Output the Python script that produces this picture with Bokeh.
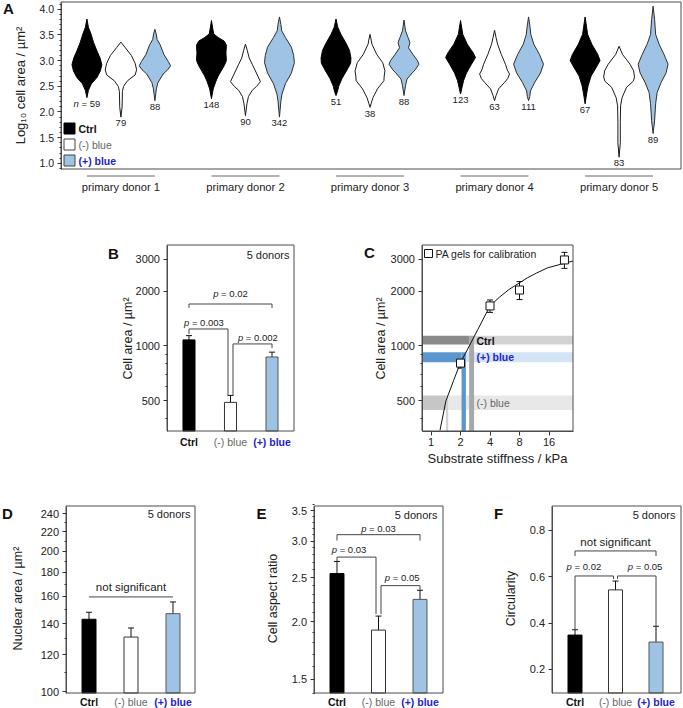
import math
from bokeh.plotting import figure
from bokeh.models import (Label, FixedTicker, SingleIntervalTicker, PrintfTickFormatter,
                          Whisker, TeeHead, ColumnDataSource, Spacer, Range1d)
from bokeh.layouts import column, row
from bokeh.embed import file_html
from bokeh.resources import INLINE

FONT = "Liberation Sans"
INK = "#222222"
FRAME = "#4d4d4d"
BLUE_FILL = "#9fc3e4"
BLUE_TEXT = "#2424c8"
GREY_TEXT = "#666666"

# ---------------- data: panel A (violins) ----------------
donors = ["primary donor 1", "primary donor 2", "primary donor 3",
          "primary donor 4", "primary donor 5"]
conditions = ["Ctrl", "(-) blue", "(+) blue"]
n_ctrl = [59, 148, 51, 123, 67]
n_minus = [79, 90, 38, 63, 83]
n_plus = [88, 342, 88, 111, 89]

# violin outlines: (log10 cell area, relative half-width)
d1_ctrl = [(3.81, 0), (3.65, 0.1), (3.52, 0.27), (3.35, 0.45), (3.19, 0.67), (3.05, 0.88),
           (2.92, 1.0), (2.8, 0.9), (2.67, 0.67), (2.55, 0.3), (2.42, 0.1), (2.28, 0)]
d1_minus = [(3.36, 0), (3.25, 0.3), (3.1, 0.7), (2.95, 0.95), (2.82, 1.05), (2.72, 0.95),
            (2.61, 0.45), (2.5, 0.18), (2.4, 0.1), (2.1, 0.08), (1.9, 0)]
d1_plus = [(3.61, 0), (3.5, 0.1), (3.41, 0.15), (3.31, 0.35), (3.12, 0.6), (2.98, 0.9),
           (2.9, 1.05), (2.82, 0.85), (2.74, 0.55), (2.57, 0.2), (2.45, 0.1), (2.22, 0)]
d2_ctrl = [(3.78, 0), (3.6, 0.1), (3.52, 0.15), (3.45, 0.45), (3.38, 0.85), (3.3, 1.0),
           (3.15, 0.97), (3.0, 1.0), (2.9, 0.85), (2.8, 0.65), (2.7, 0.45), (2.6, 0.3),
           (2.45, 0.12), (2.26, 0)]
d2_minus = [(3.32, 0), (3.2, 0.12), (3.05, 0.25), (2.93, 0.45), (2.76, 0.73), (2.59, 1.0),
            (2.5, 0.75), (2.42, 0.45), (2.3, 0.2), (2.16, 0.1), (1.93, 0)]
d2_plus = [(3.85, 0), (3.7, 0.1), (3.58, 0.15), (3.45, 0.4), (3.26, 0.8), (3.1, 0.95),
           (2.96, 1.0), (2.76, 0.8), (2.55, 0.4), (2.35, 0.17), (2.22, 0.1), (1.9, 0)]
d3_ctrl = [(3.81, 0), (3.65, 0.12), (3.5, 0.35), (3.35, 0.65), (3.2, 0.9), (3.05, 1.0),
           (2.95, 0.98), (2.8, 0.7), (2.65, 0.4), (2.5, 0.18), (2.4, 0.1), (2.32, 0)]
d3_minus = [(3.51, 0), (3.4, 0.08), (3.32, 0.13), (3.12, 0.45), (2.96, 0.85), (2.8, 1.0),
            (2.7, 0.95), (2.61, 0.93), (2.45, 0.5), (2.28, 0.2), (2.16, 0.07), (2.09, 0)]
d3_plus = [(3.79, 0), (3.58, 0.1), (3.45, 0.27), (3.35, 0.4), (3.25, 0.3), (3.12, 0.6),
           (3.0, 0.9), (2.93, 1.0), (2.82, 0.75), (2.76, 0.55), (2.64, 0.2), (2.51, 0.1), (2.32, 0)]
d4_ctrl = [(3.78, 0), (3.6, 0.1), (3.51, 0.15), (3.32, 0.45), (3.15, 0.85), (3.06, 1.0),
           (2.93, 0.73), (2.76, 0.4), (2.61, 0.2), (2.48, 0.1), (2.35, 0)]
d4_minus = [(3.59, 0), (3.45, 0.1), (3.32, 0.2), (3.12, 0.45), (2.93, 0.73), (2.82, 0.85),
            (2.74, 1.0), (2.65, 0.88), (2.57, 0.65), (2.45, 0.27), (2.32, 0.1), (2.22, 0)]
d4_plus = [(3.85, 0), (3.65, 0.1), (3.51, 0.15), (3.32, 0.35), (3.12, 0.73), (2.93, 1.0),
           (2.76, 0.8), (2.57, 0.4), (2.41, 0.13), (2.3, 0.08), (2.22, 0)]
d5_ctrl = [(3.85, 0), (3.65, 0.1), (3.51, 0.17), (3.32, 0.45), (3.12, 0.85), (3.0, 1.0),
           (2.86, 0.73), (2.7, 0.4), (2.51, 0.2), (2.35, 0.1), (2.16, 0)]
d5_minus = [(3.28, 0), (3.12, 0.23), (2.93, 0.73), (2.8, 0.97), (2.68, 1.03), (2.6, 0.95),
            (2.48, 0.5), (2.28, 0.2), (2.12, 0.1), (1.8, 0.08), (1.4, 0.08), (1.12, 0)]
d5_plus = [(4.06, 0), (3.8, 0.1), (3.51, 0.17), (3.32, 0.4), (3.12, 0.73), (2.93, 1.0),
           (2.76, 0.87), (2.57, 0.53), (2.38, 0.27), (2.16, 0.17), (1.83, 0.1), (1.58, 0)]

# ---------------- data: panels B-F ----------------
cell_area_mean = [1080, 490, 870]
cell_area_sem = [60, 45, 55]
nuclear_area_mean = [143, 131, 147]
nuclear_area_sem = [5, 6, 8.7]
aspect_ratio_mean = [2.55, 1.92, 2.24]
aspect_ratio_sem = [0.16, 0.14, 0.105]
circularity_mean = [0.348, 0.543, 0.318]
circularity_sem = [0.023, 0.038, 0.068]

gel_stiffness = [2, 4, 8, 23]
gel_area = [805, 1660, 2030, 2970]
gel_area_err = [50, 130, 230, 300]
fit_stiffness = [1.235, 1.42, 1.7, 2.0, 2.46, 3.0, 4.0, 5.0, 6.3, 9.7, 12, 15.5, 21, 28.1]
fit_area = [344, 499, 646, 810, 1000, 1230, 1659, 1856, 2050, 2374, 2520, 2690, 2810, 2930]
equiv_stiffness_ctrl = (2.45, 2.75)
equiv_stiffness_minus = (1.42, 1.50)
equiv_stiffness_plus = (2.05, 2.27)

cond_colors = ["#000000", "#ffffff", BLUE_FILL]
cond_lines = ["#000000", "#333333", "#555555"]
cond_text_colors = ["#111111", GREY_TEXT, BLUE_TEXT]
cond_text_styles = ["bold", "normal", "bold"]


# ---------------- helpers ----------------
class Frame:
    """Maps reference-pixel positions onto the data coordinates of one panel."""
    def __init__(self, box, xr, yr, xlog=False, ylog=False):
        self.fx0, self.fy0, self.fx1, self.fy1 = box
        self.xr, self.yr, self.xlog, self.ylog = xr, yr, xlog, ylog

    @staticmethod
    def _m(t, r, log):
        if log:
            a, b = math.log10(r[0]), math.log10(r[1])
            return 10 ** (a + t * (b - a))
        return r[0] + t * (r[1] - r[0])

    def x(self, px):
        return self._m((px - self.fx0) / (self.fx1 - self.fx0), self.xr, self.xlog)

    def y(self, py):
        return self._m((self.fy1 - py) / (self.fy1 - self.fy0), self.yr, self.ylog)


def style_axis(ax):
    ax.axis_line_color = FRAME
    ax.major_tick_line_color = "#333333"
    ax.minor_tick_line_color = "#333333"
    ax.major_tick_out = 4
    ax.major_tick_in = 0
    ax.minor_tick_out = 2
    ax.minor_tick_in = 0
    ax.major_label_text_font = FONT
    ax.major_label_text_font_size = "11px"
    ax.major_label_text_color = INK
    ax.major_label_standoff = 3


def make_fig(outer, box, xr, yr, xlog=False, ylog=False, xaxis=False):
    ox, oy, w, h = outer
    fr = Frame(box, xr, yr, xlog, ylog)
    p = figure(width=w, height=h, title=None,
               x_range=Range1d(fr.x(ox), fr.x(ox + w)),
               y_range=Range1d(fr.y(oy + h), fr.y(oy)),
               x_axis_type="log" if xlog else "linear",
               y_axis_type="log" if ylog else "linear",
               x_axis_location="below" if xaxis else None, y_axis_location="left",
               output_backend="svg", toolbar_location=None, min_border=0)
    p.grid.visible = False
    p.outline_line_color = None
    p.background_fill_color = "white"
    p.border_fill_color = "white"
    yax = p.yaxis[0]
    style_axis(yax)
    yax.fixed_location = xr[0]
    yax.bounds = yr
    if xaxis:
        xax = p.xaxis[0]
        style_axis(xax)
        xax.fixed_location = yr[0]
        xax.bounds = xr
    return p, fr


def draw_box(p, fr):
    p.quad(left=fr.xr[0], right=fr.xr[1], bottom=fr.yr[0], top=fr.yr[1],
           fill_color=None, line_color=FRAME, line_width=1)


def label(p, x, y, text, size, color=INK, style="normal", align="center",
          baseline="middle", xoff=0, angle=0):
    p.add_layout(Label(x=x, y=y, text=text, text_font=FONT,
                       text_font_size=f"{size}px", text_color=color,
                       text_font_style=style, text_align=align,
                       text_baseline=baseline, x_offset=xoff, angle=angle))


def ytitle(p, fr, px, py, text, size=12.5):
    label(p, fr.x(px), fr.y(py), text, size, angle=math.pi / 2)


ADV = {" ": 278, "=": 584, ".": 278}


def adv(s, size):
    return sum(ADV.get(c, 556) for c in s) * size / 1000.0


def stat_label(p, x, y, sym, rest, size=9.5):
    w1 = adv(sym + " ", size)
    w2 = adv(rest, size)
    start = -(w1 + w2) / 2
    label(p, x, y, sym, size, style="italic", align="left", xoff=start)
    label(p, x, y, rest, size, align="left", xoff=start + w1)


def bracket(p, xs, ys):
    p.line(x=xs, y=ys, line_color="#444444", line_width=1)


def add_bars(p, fr, means, sems, width):
    src = ColumnDataSource(dict(x=[1, 2, 3], top=means, fill=cond_colors, line=cond_lines,
                                upper=[m + s for m, s in zip(means, sems)],
                                lower=[m - s for m, s in zip(means, sems)]))
    p.vbar(x="x", top="top", bottom=fr.yr[0], width=width, fill_color="fill",
           line_color="line", line_width=1, source=src)
    p.add_layout(Whisker(source=src, base="x", upper="upper", lower="lower",
                         line_color="#111111", line_width=1,
                         upper_head=TeeHead(size=6, line_color="#111111", line_width=1),
                         lower_head=TeeHead(size=6, line_color="#111111", line_width=1)))


def cond_labels(p, fr, py):
    for i, c in enumerate(conditions):
        label(p, i + 1, fr.y(py), c, 10.5, color=cond_text_colors[i],
              style=cond_text_styles[i])


def letter(p, fr, px, py, s):
    label(p, fr.x(px), fr.y(py), s, 15, color="#111111", style="bold")


# ---------------- panel A ----------------
pA, fA = make_fig((0, 0, 683, 197), (60.5, 1.5, 680.5, 168.5), (0.519, 5.497), (0.890, 4.141))
axA = pA.yaxis[0]
axA.ticker = SingleIntervalTicker(interval=0.5, num_minor_ticks=5)
axA.formatter = PrintfTickFormatter(format="%.1f")
axA.major_label_text_font_size = "10.5px"
ytitle(pA, fA, 20, 85, "Log₁₀ cell area / µm²", 13)

profiles = [[d1_ctrl, d1_minus, d1_plus], [d2_ctrl, d2_minus, d2_plus],
            [d3_ctrl, d3_minus, d3_plus], [d4_ctrl, d4_minus, d4_plus],
            [d5_ctrl, d5_minus, d5_plus]]
counts = [[a, b, c] for a, b, c in zip(n_ctrl, n_minus, n_plus)]
offsets = [-0.273, 0.0, 0.273]
HALF = 0.12
vxs, vys, vfill, vline = [], [], [], []
violin_lines = ["#000000", "#1a1a1a", "#2e2e2e"]
for g, trio in enumerate(profiles):
    for k, prof in enumerate(trio):
        cx = g + 1 + offsets[k]
        pts = [(cx + HALF * w, yv) for yv, w in prof] + \
              [(cx - HALF * w, yv) for yv, w in reversed(prof)]
        vxs.append([a for a, b in pts])
        vys.append([b for a, b in pts])
        vfill.append(cond_colors[k])
        vline.append(violin_lines[k])
pA.patches(xs="xs", ys="ys", fill_color="fill", line_color="line", line_width=1,
           source=ColumnDataSource(dict(xs=vxs, ys=vys, fill=vfill, line=vline)))

for g, trio in enumerate(profiles):
    for k, prof in enumerate(trio):
        cx = g + 1 + offsets[k]
        ylab = prof[-1][0] - 0.12
        if g == 0 and k == 0:
            stat_label(pA, cx, ylab, "n", f"= {counts[g][k]}", size=9.5)
        else:
            label(pA, cx, ylab, str(counts[g][k]), 9.5)

# legend
leg_py = [128, 144, 160]
pA.scatter(x=[fA.x(69)] * 3, y=[fA.y(v) for v in leg_py], marker="square", size=11,
           fill_color=cond_colors, line_color=["#000000", "#444444", "#444444"], line_width=1)
for i, c in enumerate(conditions):
    label(pA, fA.x(78), fA.y(leg_py[i]), c, 10.5, color=cond_text_colors[i],
          style=cond_text_styles[i], align="left")

# donor group labels
for g, d in enumerate(donors):
    pA.line(x=[g + 1 - 0.2725, g + 1 + 0.2725], y=[fA.y(175.5)] * 2,
            line_color="#666666", line_width=1)
    label(pA, g + 1, fA.y(186), d, 11.2)
letter(pA, fA, 8, 8, "A")
draw_box(pA, fA)

# ---------------- panel B ----------------
pB, fB = make_fig((95, 235, 205, 235), (166.5, 244.5, 293.5, 430.5), (0.47, 3.53), (341, 3589),
                  ylog=True)
axB = pB.yaxis[0]
axB.ticker = FixedTicker(ticks=[500, 1000, 2000, 3000], minor_ticks=[400, 600, 700, 800, 900])
axB.formatter = PrintfTickFormatter(format="%d")
ytitle(pB, fB, 127, 338, "Cell area / µm²")
add_bars(pB, fB, cell_area_mean, cell_area_sem, 0.29)
bracket(pB, [1, 1, 3, 3], [1617, 1701, 1701, 1617])
bracket(pB, [1, 1, 1.94, 1.94], [1164, 1240, 1240, 538])
bracket(pB, [2.06, 2.06, 3, 3], [538, 1026, 1026, 975])
stat_label(pB, 2, 1952, "p", "= 0.02")
stat_label(pB, 1.36, 1354, "p", "= 0.003")
stat_label(pB, 2.66, 1120, "p", "= 0.002")
label(pB, fB.x(289), fB.y(254), "5 donors", 11, align="right")
cond_labels(pB, fB, 441)
letter(pB, fB, 113, 253, "B")
draw_box(pB, fB)

# ---------------- panel C ----------------
pC, fC = make_fig((340, 235, 260, 235), (421.5, 244.5, 572.5, 430.5), (0.8093, 28.12), (341, 3589),
                  xlog=True, ylog=True, xaxis=True)
axC = pC.yaxis[0]
axC.ticker = FixedTicker(ticks=[500, 1000, 2000, 3000], minor_ticks=[400, 600, 700, 800, 900])
axC.formatter = PrintfTickFormatter(format="%d")
axCx = pC.xaxis[0]
axCx.ticker = FixedTicker(ticks=[1, 2, 4, 8, 16], minor_ticks=[])
axCx.formatter = PrintfTickFormatter(format="%d")
ytitle(pC, fC, 380, 338, "Cell area / µm²")
label(pC, fC.x(497), fC.y(458), "Substrate stiffness / kPa", 13)

XL, XR, YB = fC.xr[0], fC.xr[1], fC.yr[0]
bands = [  # (index, equivalent stiffness range, dark, vertical, light)
    (0, equiv_stiffness_ctrl, "#8a8a8a", "#a8a8a8", "#d3d3d3"),
    (2, equiv_stiffness_plus, "#5b97cc", "#5b97cc", "#d3e5f5"),
    (1, equiv_stiffness_minus, "#c6c6c6", "#d2d2d2", "#e8e8e8"),
]
hq = dict(left=[], right=[], bottom=[], top=[], color=[])
vq = dict(left=[], right=[], bottom=[], top=[], color=[])
for i, (lo_s, hi_s), dark, vert, light in bands:
    lo = cell_area_mean[i] - cell_area_sem[i]
    hi = cell_area_mean[i] + cell_area_sem[i]
    for l, r, col in [(XL, lo_s, dark), (hi_s, XR, light)]:
        hq["left"].append(l); hq["right"].append(r)
        hq["bottom"].append(lo); hq["top"].append(hi); hq["color"].append(col)
    vq["left"].append(lo_s); vq["right"].append(hi_s)
    vq["bottom"].append(YB); vq["top"].append(hi); vq["color"].append(vert)
pC.quad(left="left", right="right", bottom="bottom", top="top", fill_color="color",
        line_color=None, source=ColumnDataSource(hq))
pC.quad(left="left", right="right", bottom="bottom", top="top", fill_color="color",
        line_color=None, source=ColumnDataSource(vq))
pC.line(fit_stiffness, fit_area, line_color="#111111", line_width=1)
gsrc = ColumnDataSource(dict(x=gel_stiffness, y=gel_area,
                             upper=[a + e for a, e in zip(gel_area, gel_area_err)],
                             lower=[a - e for a, e in zip(gel_area, gel_area_err)]))
pC.add_layout(Whisker(source=gsrc, base="x", upper="upper", lower="lower",
                      line_color="#111111", line_width=1,
                      upper_head=TeeHead(size=6, line_color="#111111", line_width=1),
                      lower_head=TeeHead(size=6, line_color="#111111", line_width=1)))
pC.scatter(x="x", y="y", marker="square", size=8, fill_color="white",
           line_color="#111111", line_width=1, source=gsrc)
pC.scatter(x=[fC.x(428)], y=[fC.y(253)], marker="square", size=8, fill_color="white",
           line_color="#111111", line_width=1)
label(pC, fC.x(435), fC.y(253), "PA gels for calibration", 10.5, align="left")
label(pC, fC.x(476), fC.y(340), "Ctrl", 10.5, color="#111111", style="bold", align="left")
label(pC, fC.x(476), fC.y(356), "(+) blue", 10.5, color=BLUE_TEXT, style="bold", align="left")
label(pC, fC.x(476), fC.y(402), "(-) blue", 10.5, color=GREY_TEXT, align="left")
letter(pC, fC, 369, 252, "C")
draw_box(pC, fC)

# ---------------- panel D ----------------
pD, fD = make_fig((0, 495, 205, 213), (65.5, 505.5, 194.5, 692.5), (0.452, 3.524), (99.5, 249.6),
                  ylog=True)
axD = pD.yaxis[0]
axD.ticker = FixedTicker(ticks=[100, 120, 140, 160, 180, 200, 220, 240],
                         minor_ticks=[110, 130, 150, 170, 190, 210, 230])
axD.formatter = PrintfTickFormatter(format="%d")
ytitle(pD, fD, 17, 598, "Nuclear area / µm²")
add_bars(pD, fD, nuclear_area_mean, nuclear_area_sem, 0.333)
bracket(pD, [1, 3], [159.6, 159.6])
label(pD, 2, 167.6, "not significant", 11.5)
label(pD, fD.x(190), fD.y(513), "5 donors", 11, align="right")
cond_labels(pD, fD, 701)
letter(pD, fD, 7, 513, "D")
draw_box(pD, fD)

# ---------------- panel E ----------------
pE, fE = make_fig((205, 495, 245, 213), (313.5, 505.5, 442.5, 692.5), (0.446, 3.554), (1.40, 3.58),
                  ylog=True)
axE = pE.yaxis[0]
minorE = [round(1.4 + 0.1 * i, 1) for i in range(23)]
axE.ticker = FixedTicker(ticks=[1.5, 2.0, 2.5, 3.0, 3.5],
                         minor_ticks=[v for v in minorE if v not in (1.5, 2.0, 2.5, 3.0, 3.5)])
axE.formatter = PrintfTickFormatter(format="%.1f")
ytitle(pE, fE, 272, 598, "Cell aspect ratio")
add_bars(pE, fE, aspect_ratio_mean, aspect_ratio_sem, 0.337)
bracket(pE, [1, 1, 3, 3], [3.01, 3.10, 3.10, 3.01])
bracket(pE, [1, 1, 1.94, 1.94], [2.71, 2.77, 2.77, 2.08])
bracket(pE, [2.06, 2.06, 3, 3], [2.08, 2.40, 2.40, 2.35])
stat_label(pE, 2, 3.2, "p", "= 0.03")
stat_label(pE, 1.29, 2.88, "p", "= 0.03")
stat_label(pE, 2.57, 2.5, "p", "= 0.05")
label(pE, fE.x(437), fE.y(514), "5 donors", 11, align="right")
cond_labels(pE, fE, 701)
letter(pE, fE, 261, 513, "E")
draw_box(pE, fE)

# ---------------- panel F ----------------
pF, fF = make_fig((450, 495, 233, 213), (551.5, 505.5, 680.5, 692.5), (0.432, 3.617), (0.098, 0.905))
axF = pF.yaxis[0]
axF.ticker = FixedTicker(ticks=[0.2, 0.4, 0.6, 0.8], minor_ticks=[])
axF.formatter = PrintfTickFormatter(format="%.1f")
ytitle(pF, fF, 510, 598, "Circularity")
add_bars(pF, fF, circularity_mean, circularity_sem, 0.346)
bracket(pF, [1, 1, 3, 3], [0.689, 0.711, 0.711, 0.689])
bracket(pF, [1, 1, 1.95, 1.95], [0.371, 0.603, 0.603, 0.59])
bracket(pF, [2.05, 2.05, 3, 3], [0.59, 0.603, 0.603, 0.387])
label(pF, 2, 0.751, "not significant", 11.5)
stat_label(pF, 1.22, 0.642, "p", "= 0.02")
stat_label(pF, 2.73, 0.642, "p", "= 0.05")
label(pF, fF.x(675), fF.y(514), "5 donors", 11, align="right")
cond_labels(pF, fF, 701)
letter(pF, fF, 498, 513, "F")
draw_box(pF, fF)

# ---------------- layout ----------------
layout = column(
    pA,
    Spacer(width=683, height=38),
    row(Spacer(width=95, height=235), pB, Spacer(width=40, height=235), pC, spacing=0),
    Spacer(width=683, height=25),
    row(pD, pE, pF, spacing=0),
    spacing=0,
)

open("out.html", "w").write(file_html(layout, INLINE))
